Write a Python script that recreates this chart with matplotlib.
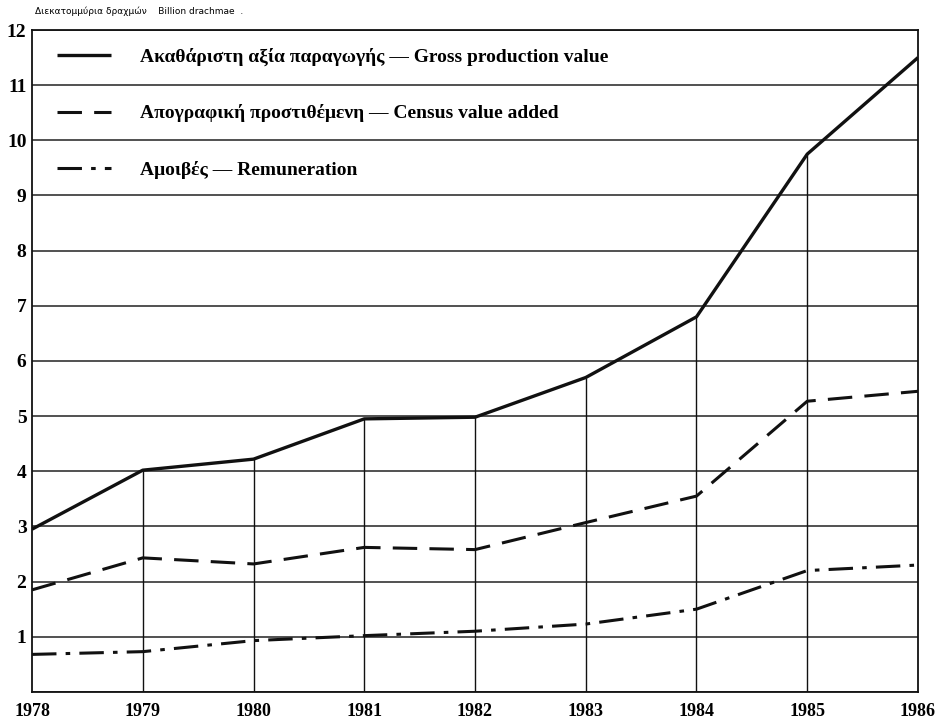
import matplotlib.pyplot as plt

years = [1978, 1979, 1980, 1981, 1982, 1983, 1984, 1985, 1986]
gross = [2.95, 4.02, 4.22, 4.95, 4.98, 5.70, 6.80, 9.75, 11.50]
census = [1.85, 2.43, 2.32, 2.62, 2.58, 3.07, 3.55, 5.27, 5.45]
remun = [0.68, 0.73, 0.93, 1.02, 1.10, 1.23, 1.50, 2.20, 2.30]

labels = [
    "Ακαθάριστη αξία παραγωγής \u2014 Gross production value",
    "Απογραφική προστιθέμενη \u2014 Census value added",
    "Αμοιβές \u2014 Remuneration",
]

plt.rcParams["font.family"] = ["Liberation Serif", "DejaVu Serif"]

fig = plt.figure(figsize=(9.42, 7.23), dpi=100)
ax = fig.add_axes([0.034, 0.043, 0.9405, 0.9155])

# horizontal grid
for v in range(0, 13):
    ax.axhline(v, color="#222222", lw=1.1, zorder=1)
# drop lines from the axis up to the gross value
ax.vlines(years[1:-1], 0, gross[1:-1], color="#111111", lw=1.0, zorder=1)

ax.plot(years, gross, color="#111111", lw=2.4, solid_capstyle="butt",
        label=labels[0], zorder=3)
ax.plot(years, census, color="#111111", lw=2.2, dashes=(8, 4),
        label=labels[1], zorder=3)
ax.plot(years, remun, color="#111111", lw=2.2, dashes=(8, 3, 1.5, 3),
        label=labels[2], zorder=3)

ax.set_xlim(years[0], years[-1])
ax.set_ylim(0, 12)
ax.set_xticks(years)
ax.set_xticklabels([str(y) for y in years], fontsize=13, fontweight="bold")
ax.set_yticks(range(1, 13))
ax.set_yticklabels([str(v) for v in range(1, 13)], fontsize=14, fontweight="bold")
ax.tick_params(length=0, pad=4)
ax.tick_params(axis="x", pad=8)
for s in ax.spines.values():
    s.set_color("#111111")
    s.set_linewidth(1.3)

leg = ax.legend(loc="upper left", bbox_to_anchor=(0.008, 1.0), frameon=False,
                prop={"size": 14, "weight": "bold"}, handlelength=2.8,
                handletextpad=1.5, labelspacing=1.98)

fig.text(0.037, 0.985, "Διεκατομμύρια δραχμών    Billion drachmae  .",
         fontsize=6.5, family="DejaVu Sans", va="center", ha="left")

fig.savefig("out.png", dpi=100)
